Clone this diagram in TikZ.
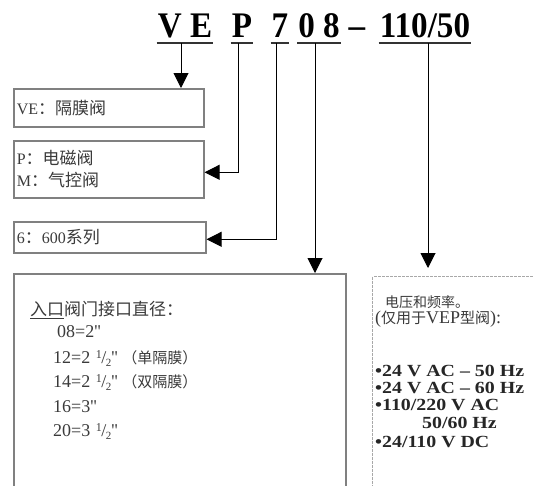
\documentclass[tikz,border=0pt]{standalone}
\usepackage{fontspec}
\setmainfont{Liberation Serif}
\newfontfamily\cjk{Noto Sans CJK SC}
\newfontfamily\codefont[FakeStretch=0.92]{Liberation Serif}
\newfontfamily\voltfont[FakeStretch=1.17]{Liberation Serif}
\usetikzlibrary{arrows.meta, calc}
\definecolor{c1}{HTML}{000000}
\definecolor{c2}{HTML}{808080}
\definecolor{c3}{HTML}{A8A8A8}
\definecolor{labelcolor}{HTML}{3A3A3A}
\newcommand{\inch}{\textquotesingle\textquotesingle}
\newcommand{\half}{\kern1pt\raisebox{5pt}{\fontsize{12}{12}\selectfont 1}\kern-0.5pt/\kern-0.5pt\raisebox{-3pt}{\fontsize{11}{11}\selectfont 2}}
\newcommand{\zh}[1]{{\fontsize{17}{17}\cjk #1}}

\begin{document}
\begin{tikzpicture}[
    x=1pt, y=-1pt,
    code/.style={font=\codefont\bfseries\fontsize{36}{36}\selectfont, text=c1,
        inner xsep=0pt, inner ysep=0pt, anchor=base},
    uline/.style={c1!80, line width=2.2pt},
    stem/.style={c1!70, line width=1pt},
    arr/.style={stem, -{Triangle[width=15pt, length=15pt]}, c1},
    box/.style={draw=c2, line width=1.6pt, anchor=north west, inner sep=2pt,
        align=left, font=\fontsize{16}{22}\selectfont, text=labelcolor},
    lab/.style={anchor=west, inner sep=0pt, font=\fontsize{18}{18}\selectfont, text=labelcolor},
    volt/.style={anchor=west, inner sep=0pt, font=\voltfont\bfseries\fontsize{17}{17}\selectfont, text=c1!85},
]
\clip (0,0) rectangle (533,485);

% ============================================================ the type code
\node[code] (ve) at (185,37) {V E};
\node[code] (p) at (242,37) {P};
\node[code] (sev) at (280,37) {7};
\node[code] (oe) at (319,37) {0 8};
\node[code] (dash) at (357,37) {–};
\node[code] (hz) at (425,37) {110/50};

\foreach \n in {ve, p, sev, oe, hz}{
    \draw[uline] ($(\n.base west)+(-1,6)$) -- ($(\n.base east)+(1,6)$);
}
\coordinate (veu) at (181,43);
\coordinate (pu) at (238,43);
\coordinate (sevu) at (276,43);
\coordinate (oeu) at (315,43);
\coordinate (hzu) at (428,43);

% ============================================================ the boxes
\node[box, minimum width=190pt, minimum height=38pt, text width=184pt] (vebox) at (13,88)
    {VE\zh{：隔膜阀}};
\node[box, minimum width=190pt, minimum height=57pt, text width=184pt] (pmbox) at (13,140)
    {P\zh{：电磁阀}\\M\zh{：气控阀}};
\node[box, minimum width=192pt, minimum height=31pt, text width=186pt] (sbox) at (13,221)
    {6\zh{：}600\zh{系列}};
\node[box, minimum width=332pt, minimum height=240pt] (dbox) at (13,273) {};
\node[box, draw=c3, line width=1pt, dash pattern=on 3pt off 1pt,
    minimum width=200pt, minimum height=240pt] (vbox) at (372,276) {};

% diameter list
\node[lab] (d0) at (30,310) {\zh{\underline{入口}阀门接口直径：}};
\node[lab] (d1) at (57,332) {08=2\inch};
\node[lab] (d2) at (53,359) {12=2 \half\inch\ {\fontsize{15}{15}\cjk（单隔膜）}};
\node[lab] (d3) at (53,383) {14=2 \half\inch\ {\fontsize{15}{15}\cjk（双隔膜）}};
\node[lab] (d4) at (53,407) {16=3\inch};
\node[lab] (d5) at (53,432) {20=3 \half\inch};

% voltage list
\node[lab, font=\fontsize{14}{14}\selectfont] (v0) at (385,302) {\cjk 电压和频率。};
\node[lab, font=\fontsize{18}{18}\selectfont] (v1) at (375,319)
    {({\fontsize{15}{15}\cjk 仅用于}VEP{\fontsize{15}{15}\cjk 型阀}):};
\node[volt] (v2) at (375,371) {\textbullet 24 V AC – 50 Hz};
\node[volt] (v3) at (375,388) {\textbullet 24 V AC – 60 Hz};
\node[volt] (v4) at (375,405) {\textbullet 110/220 V AC};
\node[volt] (v5) at (422,423) {50/60 Hz};
\node[volt] (v6) at (375,442) {\textbullet 24/110 V DC};

% ============================================================ connectors
\draw[arr] (veu) -- (veu |- vebox.north);
\draw[arr] (pu) |- ([yshift=-3pt]pmbox.east);
\draw[arr] (sevu) |- ([yshift=-2pt]sbox.east);
\draw[arr] (oeu) -- (oeu |- dbox.north);
\draw[arr, shorten >=8pt] (hzu) -- (hzu |- vbox.north);

\end{tikzpicture}
\end{document}
